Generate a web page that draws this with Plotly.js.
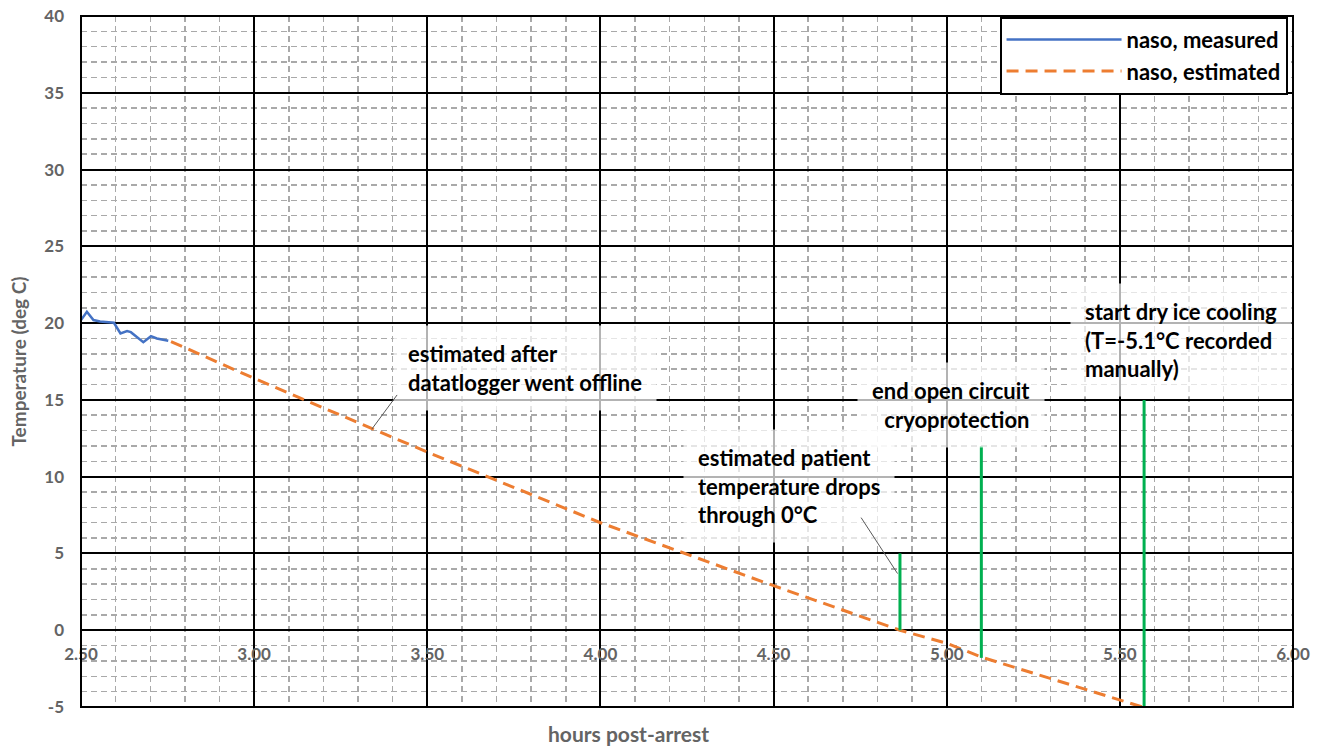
<!DOCTYPE html>
<html>
<head>
<meta charset="utf-8">
<script src="https://cdn.plot.ly/plotly-3.0.1.min.js"></script>
<style>html,body{margin:0;padding:0;background:#fff;}#chart{width:1325px;height:750px;}</style>
</head>
<body>
<div id="chart"></div>
<script>
// ---- data ----
const measuredHours = [2.500, 2.517, 2.536, 2.555, 2.595, 2.614, 2.633, 2.644, 2.680, 2.702, 2.719, 2.752];
const measuredTemp  = [20.2, 20.74, 20.2, 20.1, 20.02, 19.33, 19.48, 19.41, 18.76, 19.15, 19.0, 18.85];

const estimatedHours = [2.76, 3.0, 3.5, 4.0, 4.5, 4.865, 5.0, 5.1, 5.565];
const estimatedTemp  = [18.8, 16.4, 11.6, 7.0, 2.9, 0.0, -0.85, -1.75, -5.0];

const eventHours  = [4.865, 5.10, 5.57];
const eventBottom = [0, -1.8, -5];
const eventTop    = [5, 12, 15];

const xTickVals   = [2.5, 3.0, 3.5, 4.0, 4.5, 5.0, 5.5, 6.0];
const xTickLabels = ['2.50', '3.00', '3.50', '4.00', '4.50', '5.00', '5.50', '6.00'];
const yTickVals   = [-5, 0, 5, 10, 15, 20, 25, 30, 35, 40];
const yTickLabels = ['-5', '0', '5', '10', '15', '20', '25', '30', '35', '40'];

// ---- build event marker segments from arrays ----
const evX = [], evY = [];
eventHours.forEach((h, i) => { evX.push(h, h, null); evY.push(eventBottom[i], eventTop[i], null); });

const FONT = 'Lato, "Open Sans", sans-serif';
const GRAY = '#646464';

const traces = [
  {x: measuredHours, y: measuredTemp, type: 'scatter', mode: 'lines', name: 'naso, measured',
   line: {color: '#4472C4', width: 2.5}},
  {x: estimatedHours, y: estimatedTemp, type: 'scatter', mode: 'lines', name: 'naso, estimated',
   line: {color: '#ED7D31', width: 3, dash: '12px,7px'}},
  {x: evX, y: evY, type: 'scatter', mode: 'lines', showlegend: false, hoverinfo: 'skip',
   line: {color: '#00B050', width: 3}}
];

const boxBg = 'rgba(255,255,255,0.7)';
const annFont = {family: FONT, size: 22, color: '#000', weight: 700};

const layout = {
  width: 1325, height: 750,
  margin: {l: 81, r: 32, t: 16, b: 43},
  paper_bgcolor: '#fff', plot_bgcolor: '#fff',
  font: {family: FONT},
  showlegend: true,
  xaxis: {
    range: [2.5, 6.0], anchor: 'free', position: 0.1114,
    tickvals: xTickVals, ticktext: xTickLabels, ticks: '', showline: false, zeroline: false,
    tickfont: {family: FONT, size: 17, color: GRAY, weight: 700}, ticklabelstandoff: 12,
    showgrid: true, gridcolor: '#000', gridwidth: 2,
    minor: {dtick: 0.1, tick0: 2.5, showgrid: true, gridcolor: '#a9a9a9', gridwidth: 1.5, griddash: '6px,4px'}
  },
  yaxis: {
    range: [-5, 40], tickvals: yTickVals, ticktext: yTickLabels, ticks: '', showline: false, zeroline: false,
    tickfont: {family: FONT, size: 17, color: GRAY, weight: 700}, ticklabelstandoff: 16,
    showgrid: true, gridcolor: '#000', gridwidth: 2,
    minor: {dtick: 1, tick0: 0, showgrid: true, gridcolor: '#a9a9a9', gridwidth: 1.5, griddash: '6px,4px'},
    title: {text: 'Temperature (deg C)', font: {family: FONT, size: 19, color: GRAY, weight: 700}, standoff: 12}
  },
  legend: {
    x: 0.9955, xanchor: 'right', y: 0.999, yanchor: 'top',
    bgcolor: '#fff', bordercolor: '#000', borderwidth: 2,
    font: {family: FONT, size: 22, color: '#000', weight: 700},
    itemwidth: 115
  },
  shapes: [
    {type: 'rect', xref: 'paper', yref: 'paper', x0: 0, x1: 1, y0: 0, y1: 1,
     line: {color: '#000', width: 2}, layer: 'above'}
  ],
  annotations: [
    {text: 'hours post-arrest', xref: 'paper', yref: 'paper', x: 0.452, y: -0.039,
     xanchor: 'center', yanchor: 'middle', showarrow: false,
     font: {family: FONT, size: 21, color: GRAY, weight: 700}},
    {text: 'estimated after<br>datatlogger went offline', x: 3.401, y: 17.07, xanchor: 'left', yanchor: 'middle',
     align: 'left', showarrow: false, bgcolor: boxBg, borderpad: 14, font: annFont},
    {text: 'estimated patient<br>temperature drops<br>through 0°C', x: 4.238, y: 9.38, xanchor: 'left', yanchor: 'middle',
     align: 'left', showarrow: false, bgcolor: boxBg, borderpad: 14, font: annFont},
    {text: 'end open circuit<br>cryoprotection', x: 5.284, y: 14.66, xanchor: 'right', yanchor: 'middle',
     align: 'right', showarrow: false, bgcolor: boxBg, borderpad: 14, font: annFont},
    {text: 'start dry ice cooling<br>(T=-5.1°C recorded<br>manually)', x: 5.356, y: 18.9, xanchor: 'left', yanchor: 'middle',
     align: 'left', showarrow: false, bgcolor: boxBg, borderpad: 14, font: annFont},
    {text: '', x: 3.34, y: 13.1, ax: 3.416, ay: 15.42, axref: 'x', ayref: 'y',
     showarrow: true, arrowhead: 0, arrowwidth: 1, arrowcolor: '#595959'},
    {text: '', x: 4.858, y: 3.69, ax: 4.750, ay: 7.43, axref: 'x', ayref: 'y',
     showarrow: true, arrowhead: 0, arrowwidth: 1, arrowcolor: '#595959'}
  ]
};

Plotly.newPlot('chart', traces, layout, {displayModeBar: false, staticPlot: true});
</script>
</body>
</html>
